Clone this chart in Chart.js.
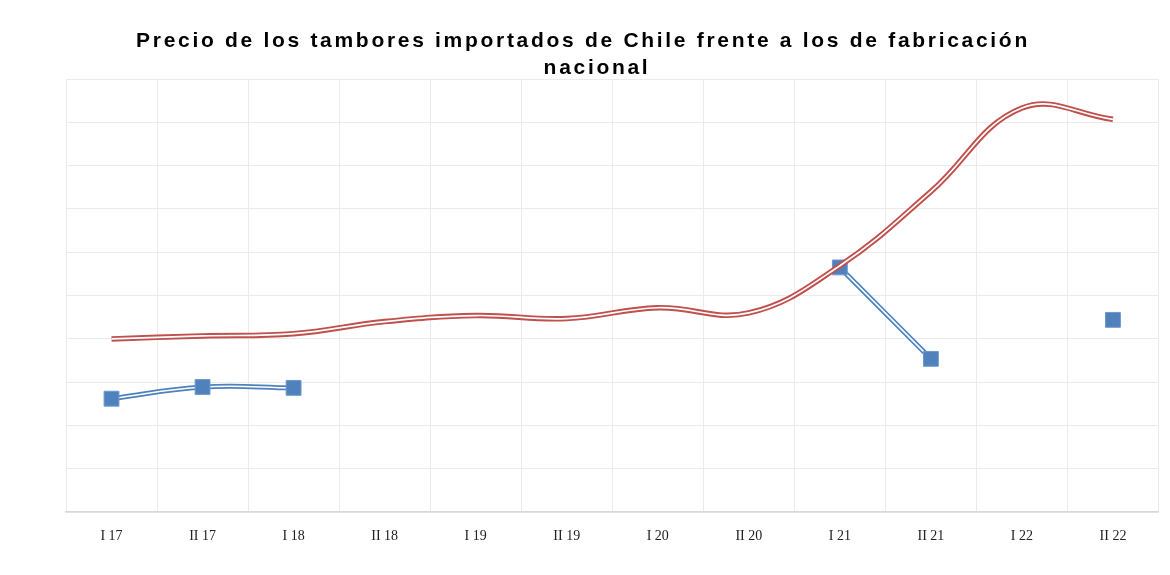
<!DOCTYPE html>
<html>
<head>
<meta charset="utf-8">
<script src="https://cdn.jsdelivr.net/npm/chart.js@4"></script>
<style>
  html, body { margin: 0; padding: 0; background: #fff; }
  #wrap { width: 1170px; height: 575px; }
</style>
</head>
<body>
<div id="wrap"><canvas id="chart" width="1170" height="575"></canvas></div>
<script>
// semesters
const labels = ['I 17', 'II 17', 'I 18', 'II 18', 'I 19', 'II 19', 'I 20', 'II 20', 'I 21', 'II 21', 'I 22', 'II 22'];

// domestic drums (red line)
const nacional = [4.0, 4.07, 4.12, 4.4, 4.54, 4.47, 4.72, 4.6, 5.69, 7.4, 9.33, 9.07];

// drums imported from Chile (blue squares)
const importados = [2.62, 2.89, 2.87, null, null, null, null, null, 5.65, 3.54, null, 4.44];

const titleLines = ['Precio de los tambores importados de Chile frente a los de fabricación', 'nacional'];

const red = '#c0504d';
const blue = '#4f81bd';

// title drawn by hand so the wide letter spacing can be kept
const spacedTitle = {
    id: 'spacedTitle',
    afterDraw(chart) {
        const ctx = chart.ctx;
        ctx.save();
        ctx.font = 'bold 21px "Liberation Sans", Arial, sans-serif';
        ctx.letterSpacing = '2.7px';
        ctx.fillStyle = '#000';
        ctx.textAlign = 'center';
        ctx.textBaseline = 'middle';
        ctx.fillText(titleLines[0], 583, 41);
        ctx.fillText(titleLines[1], 597, 68);
        ctx.restore();
    }
};

new Chart(document.getElementById('chart'), {
    type: 'line',
    data: {
        labels: labels,
        datasets: [
            {
                // red outer stroke
                data: nacional,
                borderColor: red,
                borderWidth: 5.5,
                pointRadius: 0,
                tension: 0.4,
                fill: false,
                order: 2
            },
            {
                // white centre of the red double line
                data: nacional,
                borderColor: '#ffffff',
                borderWidth: 1.7,
                pointRadius: 0,
                tension: 0.4,
                fill: false,
                order: 1
            },
            {
                // blue outer stroke
                data: importados,
                borderColor: blue,
                borderWidth: 5,
                pointRadius: 0,
                tension: 0.4,
                spanGaps: false,
                fill: false,
                order: 5
            },
            {
                data: importados,
                borderColor: '#ffffff',
                borderWidth: 1.6,
                pointRadius: 0,
                tension: 0.4,
                spanGaps: false,
                fill: false,
                order: 4
            },
            {
                // square markers
                data: importados,
                showLine: false,
                pointStyle: 'rect',
                pointRadius: 10.5,
                pointBackgroundColor: blue,
                pointBorderColor: '#6e98cb',
                pointBorderWidth: 1,
                order: 3
            }
        ]
    },
    options: {
        responsive: false,
        animation: false,
        events: [],
        layout: {
            padding: { top: 79, left: 66, right: 1, bottom: 14 }
        },
        plugins: {
            legend: { display: false },
            title: { display: false },
            tooltip: { enabled: false }
        },
        scales: {
            x: {
                offset: true,
                grid: {
                    offset: true,
                    color: '#ebebeb',
                    drawTicks: false
                },
                border: { color: '#d9d9d9', width: 1.5 },
                ticks: {
                    padding: 16,
                    color: '#222',
                    font: { family: '"Liberation Serif", "Times New Roman", serif', size: 14 }
                }
            },
            y: {
                min: 0,
                max: 10,
                ticks: { display: false, stepSize: 1 },
                grid: { color: '#ebebeb', drawTicks: false },
                border: { display: false }
            }
        }
    },
    plugins: [spacedTitle]
});
</script>
</body>
</html>
